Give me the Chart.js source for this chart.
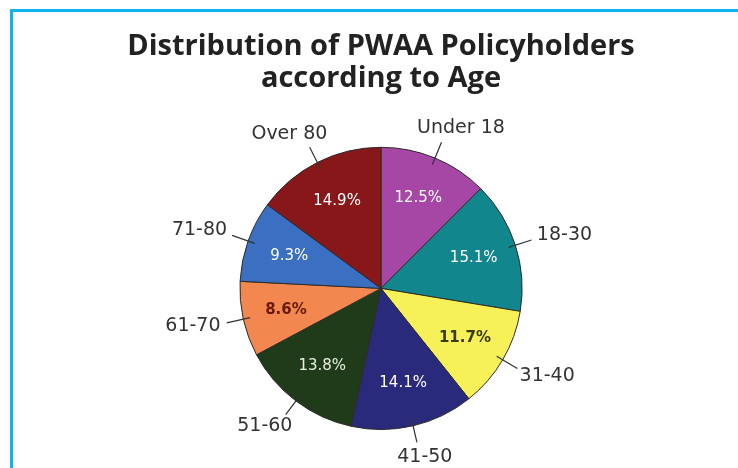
<!DOCTYPE html>
<html>
<head>
<meta charset="utf-8">
<script src="https://cdn.jsdelivr.net/npm/chart.js@4.4.1/dist/chart.umd.min.js"></script>
<style>
  html, body { margin: 0; padding: 0; background: #fff; }
  #wrap { position: relative; width: 738px; height: 468px; overflow: hidden; }
  #frame { position: absolute; left: 10px; top: 9px; right: -10px; bottom: -10px;
           border-top: 3px solid #0db4f0; border-left: 3px solid #0db4f0; }
  #chart { position: absolute; left: 12px; top: 0; }
</style>
</head>
<body>
<div id="wrap">
  <div id="frame"></div>
  <canvas id="chart" width="738" height="468"></canvas>
</div>
<script>
const titleLines = ['Distribution of PWAA Policyholders', 'according to Age'];
const ageGroups = ['Under 18', '18-30', '31-40', '41-50', '51-60', '61-70', '71-80', 'Over 80'];
const shares = [12.5, 15.1, 11.7, 14.1, 13.8, 8.6, 9.3, 14.9];

const sliceColors = ['#a647a6', '#12868d', '#f6f158', '#2a2a7c', '#1f3b19', '#f2874f', '#3b6fc2', '#88171a'];
const pctColors = ['#fff', '#fff', '#3a3a12', '#fff', '#e8eee0', '#6a1a08', '#fff', '#fff'];
const pctWeights = ['normal', 'normal', 'bold', 'normal', 'normal', 'bold', 'normal', 'normal'];

// draws the % inside each slice and the name outside with a short leader line
const sliceLabels = {
  id: 'sliceLabels',
  afterDatasetsDraw(chart) {
    const ctx = chart.ctx;
    const meta = chart.getDatasetMeta(0);
    meta.data.forEach((arc, i) => {
      const p = arc.getProps(['x', 'y', 'startAngle', 'endAngle', 'outerRadius'], true);
      const mid = (p.startAngle + p.endAngle) / 2;
      const dx = Math.cos(mid), dy = Math.sin(mid);
      const r = p.outerRadius;

      ctx.save();
      ctx.textAlign = 'center';
      ctx.textBaseline = 'middle';
      ctx.font = pctWeights[i] + ' 15px "DejaVu Sans"';
      ctx.fillStyle = pctColors[i];
      ctx.fillText(shares[i].toFixed(1) + '%', p.x + dx * r * 0.69, p.y + dy * r * 0.69);

      ctx.strokeStyle = '#333';
      ctx.lineWidth = 1.2;
      ctx.beginPath();
      ctx.moveTo(p.x + dx * (r - 7), p.y + dy * (r - 7));
      ctx.lineTo(p.x + dx * (r + 17), p.y + dy * (r + 17));
      ctx.stroke();

      ctx.font = '19px "DejaVu Sans"';
      ctx.fillStyle = '#333';
      const w = ctx.measureText(ageGroups[i]).width;
      const ax = p.x + dx * (r + 22), ay = p.y + dy * (r + 22);
      ctx.fillText(ageGroups[i], ax + dx * (w / 2 + 2), ay + dy * 10);
      ctx.restore();
    });
  }
};

new Chart(document.getElementById('chart'), {
  type: 'pie',
  data: {
    labels: ageGroups,
    datasets: [{
      data: shares,
      backgroundColor: sliceColors,
      borderColor: '#2b2b2b',
      borderWidth: 1
    }]
  },
  options: {
    responsive: false,
    animation: false,
    events: [],
    layout: { padding: { left: 0, right: 0, top: 0, bottom: 38 } },
    plugins: {
      legend: { display: false },
      tooltip: { enabled: false },
      title: {
        display: true,
        text: titleLines,
        color: '#222',
        font: { family: '"Open Sans"', size: 29, weight: 'bold', lineHeight: 1.1 },
        padding: { top: 31, bottom: 52 }
      }
    }
  },
  plugins: [sliceLabels]
});
</script>
</body>
</html>
